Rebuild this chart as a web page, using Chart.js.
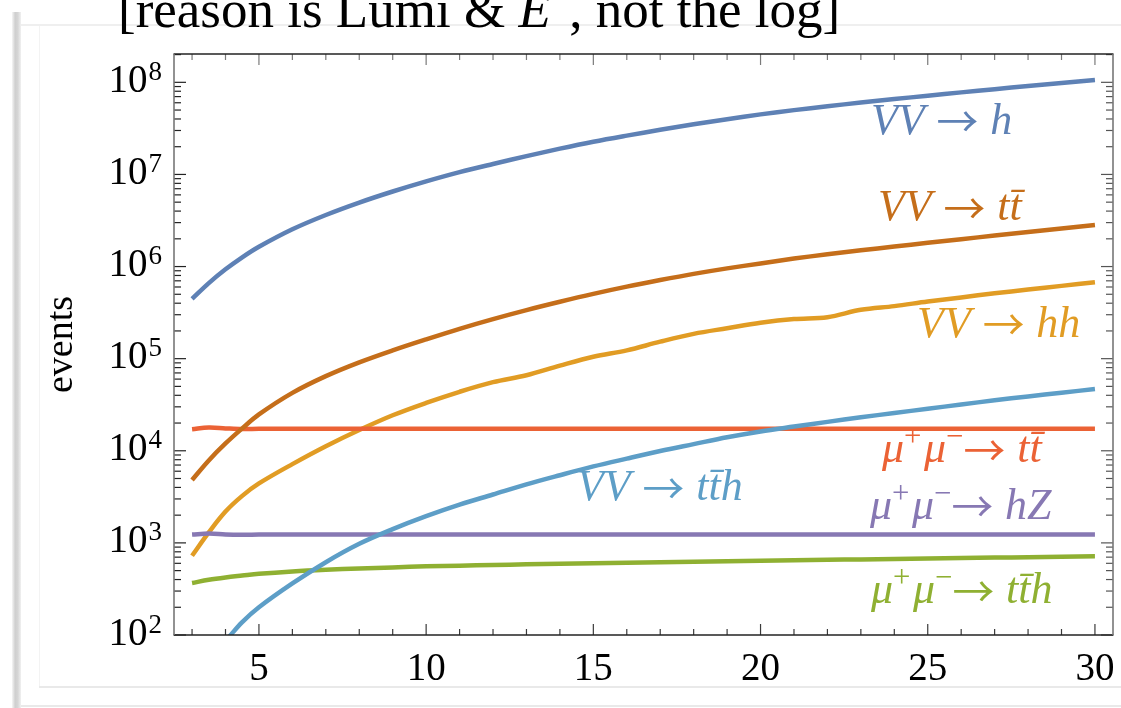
<!DOCTYPE html>
<html>
<head>
<meta charset="utf-8">
<title>Event yields vs collider energy</title>
<script src="https://cdn.jsdelivr.net/npm/chart.js@4.4.1/dist/chart.umd.min.js"></script>
<style>
  html, body { margin: 0; padding: 0; background: #fff; }
  #wrap { position: relative; width: 1121px; height: 708px; overflow: hidden; background: #fff; }
  .deco { position: absolute; }
  #headline {
    position: absolute; left: 118px; top: -17px;
    font: 53px/53px "Liberation Serif", serif; color: #000; white-space: nowrap;
  }
  #headline sup { font-size: 0.7em; vertical-align: 30px; line-height: 0; }
  canvas { position: absolute; left: 0; top: 0; }
</style>
</head>
<body>
<div id="wrap">
  <div class="deco" style="left:12px;top:12px;width:9px;height:696px;background:linear-gradient(to right,#f6f6f6,#cfcfcf 35%,#d6d6d6 65%,#f1f1f1);"></div>
  <div class="deco" style="left:21px;top:24px;width:1100px;height:2px;background:#efefef;"></div>
  <div class="deco" style="left:39px;top:26px;width:1px;height:661px;background:#f3f3f3;"></div>
  <div class="deco" style="left:39px;top:686px;width:1082px;height:2px;background:#e9e9e9;"></div>
  <div class="deco" style="left:21px;top:705px;width:1100px;height:2px;background:#e9e9e9;"></div>
  <div id="headline">[reason is Lumi &amp; <i>E</i><sup>2</sup>, not the log]</div>
  <canvas id="c" width="1121" height="708"></canvas>
</div>
<script>
// Collider energy grid (TeV) shared by most curves
const energies = [3, 3.5, 4, 4.5, 5, 6, 7, 8, 9, 10, 11, 12, 13, 14, 15, 16, 17, 18, 19, 20,
                  21, 22, 23, 24, 25, 26, 27, 28, 29, 30];

// Expected events per process
const vvToH = [4.45e5, 6.61e5, 9.33e5, 1.26e6, 1.64e6, 2.54e6, 3.63e6, 4.95e6, 6.53e6, 8.41e6,
               1.06e7, 1.30e7, 1.58e7, 1.905e7, 2.265e7, 2.64e7, 3.05e7, 3.50e7, 3.98e7, 4.49e7,
               4.99e7, 5.50e7, 6.03e7, 6.58e7, 7.16e7, 7.78e7, 8.43e7, 9.12e7, 9.84e7, 1.06e8];
const vvToHH = [726, 1300, 2190, 3240, 4420, 7160, 11200, 16800, 24300, 33100,
                43700, 55600, 66100, 84100, 1.05e5, 1.23e5, 1.53e5, 1.86e5, 2.14e5, 2.45e5,
                2.69e5, 2.82e5, 3.39e5, 3.72e5, 4.17e5, 4.62e5, 5.13e5, 5.62e5, 6.17e5, 6.76e5];
const mumuToTTH = [367, 398, 422, 442, 462, 490, 511, 527, 542, 556,
                   566, 575, 585, 593, 601, 608, 615, 624, 631, 638,
                   646, 655, 662, 670, 676, 684, 692, 700, 708, 714];
const mumuToTT = [17100, 17900, 17500, 17200, 17300, 17300, 17300, 17300, 17300, 17300,
                  17300, 17300, 17300, 17300, 17300, 17300, 17300, 17300, 17300, 17300,
                  17300, 17300, 17300, 17300, 17300, 17300, 17300, 17300, 17300, 17300];
const mumuToHZ = [1230, 1265, 1235, 1225, 1230, 1230, 1230, 1230, 1230, 1230,
                  1230, 1230, 1230, 1230, 1230, 1230, 1230, 1230, 1230, 1230,
                  1230, 1230, 1230, 1230, 1230, 1230, 1230, 1230, 1230, 1230];
const vvToTT = [4820, 7850, 12000, 17500, 24800, 42500, 64600, 91200, 1.23e5, 1.62e5,
                2.11e5, 2.69e5, 3.37e5, 4.15e5, 5.05e5, 6.05e5, 7.13e5, 8.32e5, 9.55e5, 1.08e6,
                1.22e6, 1.36e6, 1.50e6, 1.65e6, 1.81e6, 1.98e6, 2.17e6, 2.37e6, 2.59e6, 2.83e6];

// VV -> ttbar h only rises above 10^2 events from about 4 TeV
const ttHEnergies = [4.1, 4.5, 5, 6, 7, 8, 9, 10, 11, 12, 13, 14, 15, 16, 17, 18, 19, 20,
                     21, 22, 23, 24, 25, 26, 27, 28, 29, 30];
const vvToTTH = [95, 138, 200, 363, 617, 977, 1410, 1950, 2600, 3350, 4320, 5430, 6760, 8220,
                 9930, 11800, 14000, 16200, 18300, 20600, 23100, 25700, 28600, 31800, 35300,
                 38900, 42700, 46800];

// Axis ticks
const xTickValues = [5, 10, 15, 20, 25, 30];
const yTickValues = [1e2, 1e3, 1e4, 1e5, 1e6, 1e7, 1e8];

const SERIF = '"Liberation Serif", "DejaVu Serif", serif';
const ARROW_FONT = '"Noto Sans CJK JP", "DejaVu Sans", sans-serif';

function points(xs, ys) { return xs.map((x, i) => ({ x: x, y: ys[i] })); }

// Plot order follows the colour cycle; later series are painted on top
const series = [
  { label: 'VV \u2192 h',            data: points(energies, vvToH),      color: '#5E81B5' },
  { label: 'VV \u2192 hh',           data: points(energies, vvToHH),     color: '#E19C24' },
  { label: '\u03BC\u207A\u03BC\u207B \u2192 tt\u0304h', data: points(energies, mumuToTTH), color: '#8FB032' },
  { label: '\u03BC\u207A\u03BC\u207B \u2192 tt\u0304',  data: points(energies, mumuToTT),  color: '#EB6235' },
  { label: '\u03BC\u207A\u03BC\u207B \u2192 hZ',        data: points(energies, mumuToHZ),  color: '#8778B3' },
  { label: 'VV \u2192 tt\u0304',     data: points(energies, vvToTT),     color: '#C56E1A' },
  { label: 'VV \u2192 tt\u0304h',    data: points(ttHEnergies, vvToTTH), color: '#5D9EC7' }
];

// In-plot process labels: anchor = left edge / baseline, in data units
const V = { t: 'VV', i: true }, ARROW = { t: '\u2192', arrow: true }, GAP = { gap: 0.27 };
const TBAR = { t: 't\u0304', i: true };
const MUMU = [{ t: '\u03BC', i: true }, { t: '+', sup: true }, { gap: 0.06 }, { t: '\u03BC', i: true }, { t: '\u2212', sup: true }];
const processLabels = [
  { x: 23.30, y: 2.75e7, color: '#5E81B5', parts: [V, GAP, ARROW, GAP, { t: 'h', i: true }] },
  { x: 23.51, y: 3.20e6, color: '#C56E1A', parts: [V, GAP, ARROW, GAP, { t: 't', i: true }, TBAR] },
  { x: 24.68, y: 1.72e5, color: '#E19C24', parts: [V, GAP, ARROW, GAP, { t: 'hh', i: true }] },
  { x: 14.51, y: 2.92e3, color: '#5D9EC7', parts: [V, GAP, ARROW, GAP, { t: 't', i: true }, TBAR, { t: 'h', i: true }] },
  { x: 23.63, y: 7.55e3, color: '#EB6235', parts: [...MUMU, ARROW, GAP, { t: 't', i: true }, TBAR] },
  { x: 23.27, y: 1.82e3, color: '#8778B3', parts: [...MUMU, ARROW, GAP, { t: 'hZ', i: true }] },
  { x: 23.30, y: 222,    color: '#8FB032', parts: [...MUMU, ARROW, GAP, { t: 't', i: true }, TBAR, { t: 'h', i: true }] }
];
const LABEL_SIZE = 44;

function drawRich(ctx, parts, x, y, size) {
  let cx = x;
  ctx.textAlign = 'left';
  ctx.textBaseline = 'alphabetic';
  for (const p of parts) {
    if (p.gap !== undefined) { cx += p.gap * size; continue; }
    let s = size, rise = 0, family = SERIF;
    if (p.sup) { s = size * 0.7; rise = size * 0.36; }
    if (p.arrow) { s = size * 0.95; rise = -size * 0.08; family = ARROW_FONT; }
    ctx.font = (p.i ? 'italic ' : '') + s + 'px ' + family;
    ctx.fillText(p.t, cx, y - rise);
    cx += ctx.measureText(p.t).width;
  }
}

const labelPlugin = {
  id: 'processLabels',
  afterDatasetsDraw(chart) {
    const { ctx, scales: { x, y } } = chart;
    ctx.save();
    for (const lab of processLabels) {
      ctx.fillStyle = lab.color;
      drawRich(ctx, lab.parts, x.getPixelForValue(lab.x), y.getPixelForValue(lab.y), LABEL_SIZE);
    }
    ctx.restore();
  }
};

// Power-of-ten tick labels: "10" with a raised exponent
const powerLabelPlugin = {
  id: 'powerLabels',
  afterDraw(chart) {
    const { ctx, chartArea: a, scales: { y } } = chart;
    const right = a.left - 12;
    ctx.save();
    ctx.fillStyle = '#000';
    ctx.textAlign = 'right';
    ctx.textBaseline = 'alphabetic';
    for (const v of yTickValues) {
      const py = y.getPixelForValue(v);
      const exp = String(Math.round(Math.log10(v)));
      ctx.font = '27px ' + SERIF;
      const ew = ctx.measureText(exp).width;
      ctx.fillText(exp, right, py - 2.5);
      ctx.font = '39px ' + SERIF;
      ctx.fillText('10', right - ew - 1, py + 9.5);
    }
    ctx.restore();
  }
};

// Closed frame with inward ticks on all four sides
const framePlugin = {
  id: 'frame',
  afterDraw(chart) {
    const { ctx, chartArea: a, scales: { x, y } } = chart;
    const seg = (x1, y1, x2, y2) => { ctx.beginPath(); ctx.moveTo(x1, y1); ctx.lineTo(x2, y2); ctx.stroke(); };
    ctx.save();
    ctx.lineWidth = 1.2;
    for (let v = Math.ceil(x.min); v <= Math.floor(x.max); v++) {
      const px = x.getPixelForValue(v);
      const len = v % 5 === 0 ? 11 : 6;
      ctx.strokeStyle = '#3a3a3a';
      seg(px, a.bottom, px, a.bottom - len);
      ctx.strokeStyle = '#7a7a7a';
      seg(px, a.top, px, a.top + len);
    }
    for (let e = 2; e <= 8; e++) {
      for (let m = 1; m <= 9; m++) {
        const v = m * Math.pow(10, e);
        if (v > y.max) break;
        const py = y.getPixelForValue(v);
        const len = m === 1 ? 12 : 7;
        ctx.strokeStyle = '#222';
        seg(a.left, py, a.left + len, py);
        ctx.strokeStyle = '#555';
        seg(a.right, py, a.right - len, py);
      }
    }
    ctx.lineWidth = 1.6;
    ctx.strokeStyle = '#222';
    seg(a.left - 0.5, a.bottom, a.right + 0.5, a.bottom);
    seg(a.left - 0.5, a.top, a.right + 0.5, a.top);
    ctx.strokeStyle = '#777';
    seg(a.left, a.top, a.left, a.bottom);
    seg(a.right, a.top, a.right, a.bottom);
    ctx.restore();
  }
};

new Chart(document.getElementById('c'), {
  type: 'line',
  data: {
    datasets: series.map((s, i) => ({
      label: s.label,
      data: s.data,
      borderColor: s.color,
      backgroundColor: s.color,
      borderWidth: 4.5,
      pointRadius: 0,
      fill: false,
      tension: 0.35,
      clip: 0,
      order: series.length - i
    }))
  },
  options: {
    responsive: false,
    animation: false,
    layout: { padding: { top: 54, right: 8, bottom: 0, left: 0 } },
    plugins: { legend: { display: false }, tooltip: { enabled: false } },
    scales: {
      x: {
        type: 'linear', position: 'bottom', min: 2.46, max: 30.54,
        afterFit(scale) { scale.height = 73; scale.paddingLeft = 0; scale.paddingRight = 0; },
        afterBuildTicks(scale) { scale.ticks = xTickValues.map(v => ({ value: v })); },
        grid: { display: false, drawTicks: false },
        border: { display: false },
        ticks: { font: { family: SERIF, size: 39 }, color: '#000', padding: 11,
                 maxRotation: 0, autoSkip: false, callback: v => String(v) }
      },
      y: {
        type: 'logarithmic', position: 'left', min: 100, max: 2.03e8,
        afterFit(scale) { scale.width = 174; scale.paddingTop = 0; scale.paddingBottom = 0; },
        afterBuildTicks(scale) { scale.ticks = yTickValues.map(v => ({ value: v })); },
        grid: { display: false, drawTicks: false },
        border: { display: false },
        ticks: { display: false },
        title: { display: true, text: 'events', color: '#000',
                 font: { family: SERIF, size: 38 }, padding: { top: 39, bottom: 0 } }
      }
    }
  },
  plugins: [labelPlugin, powerLabelPlugin, framePlugin]
});
</script>
</body>
</html>
